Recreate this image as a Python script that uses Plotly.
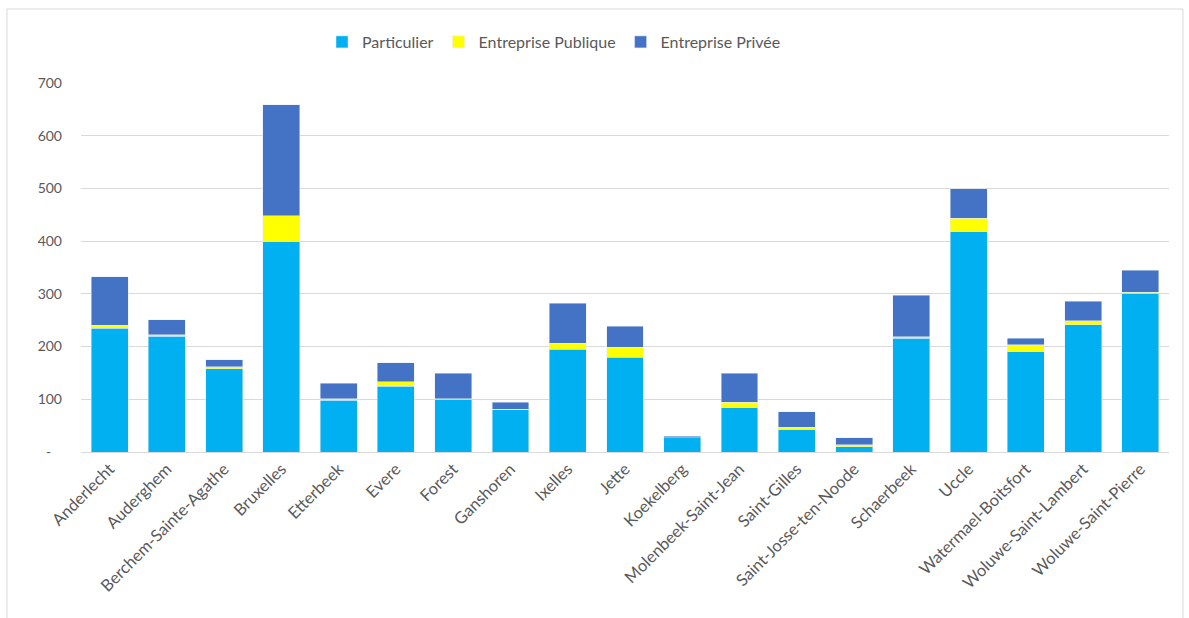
import plotly.graph_objects as go

communes = [
    "Anderlecht", "Auderghem", "Berchem-Sainte-Agathe", "Bruxelles", "Etterbeek",
    "Evere", "Forest", "Ganshoren", "Ixelles", "Jette", "Koekelberg",
    "Molenbeek-Saint-Jean", "Saint-Gilles", "Saint-Josse-ten-Noode", "Schaerbeek",
    "Uccle", "Watermael-Boitsfort", "Woluwe-Saint-Lambert", "Woluwe-Saint-Pierre",
]
particulier = [235, 220, 158, 399, 98, 125, 100, 80, 195, 180, 27, 84, 42, 10, 216, 418, 190, 241, 301]
entreprise_publique = [5, 2, 4, 49, 3, 8, 1, 1, 11, 19, 0, 10, 5, 4, 3, 25, 13, 8, 2]
entreprise_privee = [92, 29, 13, 211, 29, 36, 48, 13, 76, 40, 3, 55, 29, 13, 78, 56, 13, 37, 42]

y_ticks = [0, 100, 200, 300, 400, 500, 600, 700]
y_ticktext = ["-\u00a0\u00a0\u00a0"] + [str(v) for v in y_ticks[1:]]

FONT = "Lato, 'Open Sans', sans-serif"
GREY = "#595959"

fig = go.Figure()
fig.add_bar(x=communes, y=particulier, name="Particulier", marker_color="#00B0F0")
fig.add_bar(x=communes, y=entreprise_publique, name="Entreprise Publique", marker_color="#FFFF00")
fig.add_bar(x=communes, y=entreprise_privee, name="Entreprise Privée", marker_color="#4472C4")

W, H = 1189, 618
ml, mr, mt, mb = 81, 20, 83, 166
pw, ph = W - ml - mr, H - mt - mb

def px_to_paper_x(px):
    return (px - ml) / pw

def px_to_paper_y(py):
    return (H - mb - py) / ph

fig.update_layout(
    width=W, height=H,
    barmode="stack",
    bargap=0.355,
    margin=dict(l=ml, r=mr, t=mt, b=mb),
    paper_bgcolor="white",
    plot_bgcolor="white",
    font=dict(family=FONT, color=GREY, size=14),
    legend=dict(
        orientation="h",
        x=px_to_paper_x(322), xanchor="left",
        y=px_to_paper_y(42), yanchor="middle",
        font=dict(size=16, color=GREY),
        traceorder="normal",
        itemclick=False,
        itemwidth=30,
    ),
    xaxis=dict(
        tickangle=-45,
        tickfont=dict(size=16.5, color=GREY),
        showgrid=False,
        showline=True,
        linecolor="#D9D9D9",
        linewidth=1,
        ticks="",
    ),
    yaxis=dict(
        range=[0, 700],
        tickvals=y_ticks,
        ticktext=y_ticktext,
        tickfont=dict(size=14, color=GREY),
        showgrid=True,
        gridcolor="#D9D9D9",
        gridwidth=1,
        zeroline=False,
        showline=False,
        ticks="",
        ticklabelstandoff=18,
    ),
    shapes=[
        dict(
            type="rect", xref="paper", yref="paper",
            x0=px_to_paper_x(7), x1=px_to_paper_x(1183),
            y0=px_to_paper_y(640), y1=px_to_paper_y(9),
            line=dict(color="#D9D9D9", width=1),
            fillcolor="rgba(0,0,0,0)",
            layer="below",
        )
    ],
)

fig.write_html("out.html")
